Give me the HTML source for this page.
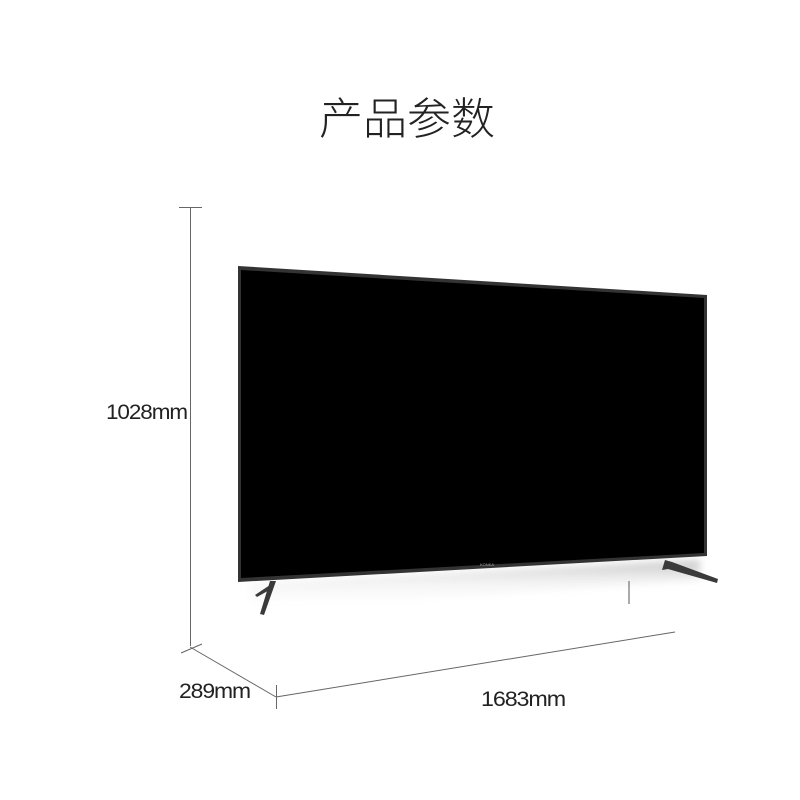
<!DOCTYPE html>
<html><head><meta charset="utf-8"><style>
body{margin:0;background:#fff;}
svg{display:block}
</style></head><body>
<svg width="800" height="800" viewBox="0 0 800 800" xmlns="http://www.w3.org/2000/svg">
<defs>
<linearGradient id="sh" x1="0" y1="0" x2="0" y2="1">
<stop offset="0" stop-color="#999" stop-opacity="0.6"/>
<stop offset="0.4" stop-color="#ddd" stop-opacity="0.4"/>
<stop offset="1" stop-color="#fff" stop-opacity="0"/>
</linearGradient>
<filter id="bl"><feGaussianBlur stdDeviation="4"/></filter>
</defs>
<text x="407" y="134" text-anchor="middle" font-family="'Noto Sans CJK SC',sans-serif" font-size="44" font-weight="300" fill="#222">产品参数</text>
<!-- shadow -->
<polygon points="250,583 700,560 700,580 250,612" fill="url(#sh)" filter="url(#bl)"/>
<!-- TV -->
<polygon points="238,266 707,295 707,556 238,582" fill="#333"/>
<polygon points="241,270 704,298 704,553 241,578" fill="#000"/>
<text x="480" y="566" font-family="'Liberation Sans',sans-serif" font-size="4" fill="#aaa">KONKA</text>
<!-- legs -->
<polygon points="270,581 276,581 264,615 260,614" fill="#3a3a3a"/>
<polygon points="270,585 273,588 257,597 255,595" fill="#3a3a3a"/>
<polygon points="665,560 672,562 718,579 717,583 668,569 662,570" fill="#3a3a3a"/>
<line x1="629" y1="581" x2="629" y2="604" stroke="#555" stroke-width="1"/>
<!-- dimensions -->
<g stroke="#666" stroke-width="1" fill="none">
<line x1="190.5" y1="207" x2="190.5" y2="646"/>
<line x1="179" y1="207.5" x2="202" y2="207.5"/>
<line x1="181" y1="653" x2="202" y2="644"/>
<line x1="190" y1="647" x2="276" y2="697"/>
<line x1="276.5" y1="685" x2="276.5" y2="709"/>
<line x1="276" y1="697" x2="675" y2="632"/>
</g>
<g font-family="'Liberation Sans',sans-serif" font-size="21" fill="#222" letter-spacing="-1">
<text x="106" y="419" textLength="81" lengthAdjust="spacingAndGlyphs">1028mm</text>
<text x="179" y="698" textLength="71" lengthAdjust="spacingAndGlyphs">289mm</text>
<text x="481" y="706" textLength="84" lengthAdjust="spacingAndGlyphs">1683mm</text>
</g>
</svg>
</body></html>
